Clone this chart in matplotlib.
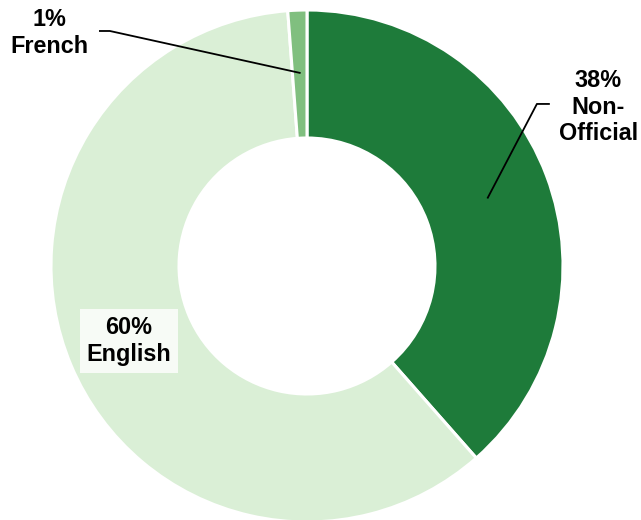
import matplotlib.pyplot as plt
import numpy as np

labels = ["Non-\nOfficial", "English", "French"]
values = [38.5, 60.3, 1.2]
pct_text = ["38%", "60%", "1%"]
colors = ["#1e7b3a", "#daefd6", "#80bf7f"]

plt.rcParams['font.family'] = ['Liberation Sans', 'DejaVu Sans']

fig = plt.figure(figsize=(6.41, 5.2), dpi=100)
ax = fig.add_axes([0, 0, 1, 1])
ax.axis('off')

wedges, _ = ax.pie(values, colors=colors, startangle=90, counterclock=False,
                   radius=1.0, wedgeprops=dict(width=0.5, edgecolor='white', linewidth=2.2))

ax.set_xlim(-307/256, (641-307)/256)
ax.set_ylim((266-520)/256, 266/256)
ax.set_aspect('auto')

# mid angles of wedges for leader lines
def mid_point(w, r=0.755):
    a = np.deg2rad((w.theta1 + w.theta2) / 2)
    return r*np.cos(a), r*np.sin(a)

fs = 16.8
ls = 1.18

# Non-Official label
x0, y0 = mid_point(wedges[0])
ax.plot([x0, 0.898, 0.945], [y0, 0.633, 0.633], color='black', lw=1.3)
ax.text(1.137, 0.621, pct_text[0] + "\n" + labels[0], ha='center', va='center',
        fontsize=fs, fontweight='bold', linespacing=ls)

# French label
x0, y0 = mid_point(wedges[2])
ax.plot([x0, -0.770, -0.809], [y0, 0.918, 0.918], color='black', lw=1.3)
ax.text(-1.008, 0.910, pct_text[2] + "\n" + labels[2], ha='center', va='center',
        fontsize=fs, fontweight='bold', linespacing=ls)

# English label
ax.text(-0.695, -0.293, pct_text[1] + "\n" + labels[1], ha='center', va='center',
        fontsize=fs, fontweight='bold', linespacing=ls,
        bbox=dict(boxstyle='square,pad=0.3', facecolor='#f7fbf6', edgecolor='none'))

plt.savefig("out.png", dpi=100)
